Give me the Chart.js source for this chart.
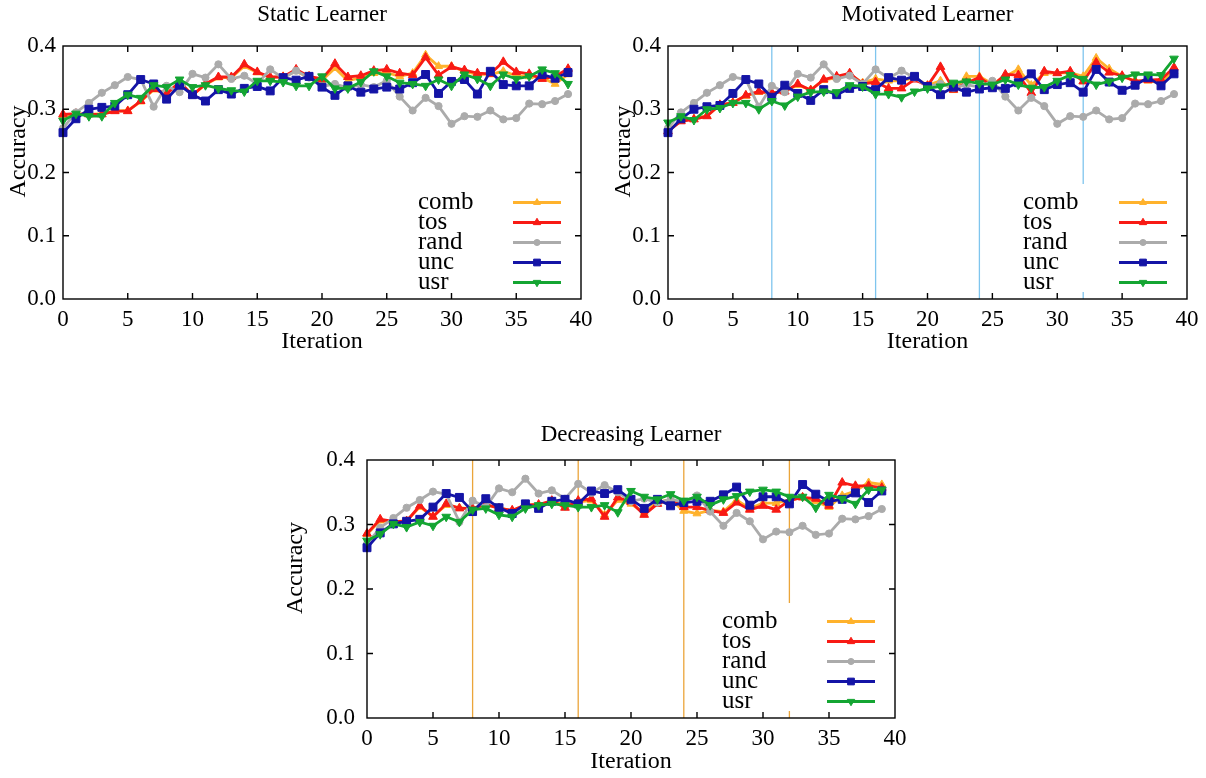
<!DOCTYPE html>
<html>
<head>
<meta charset="utf-8">
<script src="https://cdn.jsdelivr.net/npm/chart.js@4.4.1/dist/chart.umd.min.js"></script>
<style>
  body { margin: 0; background: #fff; width: 1206px; height: 778px; overflow: hidden; position: relative; }
  canvas { position: absolute; }
</style>
</head>
<body>
<canvas id="static" width="603" height="360" style="left:0;top:0"></canvas>
<canvas id="motivated" width="601" height="360" style="left:605px;top:0"></canvas>
<canvas id="decreasing" width="648" height="364" style="left:276px;top:414px"></canvas>
<script>
// x positions of the points
const iterations = [0, 1, 2, 3, 4, 5, 6, 7, 8, 9, 10, 11, 12, 13, 14, 15, 16, 17, 18, 19,
  20, 21, 22, 23, 24, 25, 26, 27, 28, 29, 30, 31, 32, 33, 34, 35, 36, 37, 38, 39];
const xTicks = [0, 5, 10, 15, 20, 25, 30, 35, 40];
const yTicks = [0.0, 0.1, 0.2, 0.3, 0.4];
const seriesNames = ['comb', 'tos', 'rand', 'unc', 'usr'];

// random sampling is the same in every panel
const randAcc = [0.270, 0.295, 0.310, 0.326, 0.338, 0.351, 0.347, 0.304, 0.337, 0.327,
  0.356, 0.350, 0.371, 0.348, 0.353, 0.340, 0.363, 0.349, 0.361, 0.350,
  0.336, 0.340, 0.334, 0.339, 0.335, 0.345, 0.320, 0.298, 0.318, 0.305,
  0.277, 0.289, 0.288, 0.298, 0.284, 0.286, 0.309, 0.308, 0.313, 0.324];

const staticComb = [0.290, 0.292, 0.292, 0.293, 0.297, 0.298, 0.312, 0.331, 0.325, 0.342,
  0.323, 0.339, 0.350, 0.350, 0.368, 0.358, 0.350, 0.352, 0.360, 0.350,
  0.346, 0.365, 0.345, 0.350, 0.357, 0.358, 0.352, 0.357, 0.386, 0.368,
  0.368, 0.360, 0.355, 0.355, 0.360, 0.353, 0.352, 0.350, 0.340, 0.355];
const staticTos = [0.292, 0.293, 0.292, 0.292, 0.297, 0.297, 0.313, 0.332, 0.324, 0.343,
  0.322, 0.340, 0.351, 0.351, 0.371, 0.359, 0.351, 0.351, 0.363, 0.352,
  0.348, 0.372, 0.351, 0.353, 0.361, 0.363, 0.357, 0.354, 0.382, 0.354,
  0.367, 0.362, 0.357, 0.356, 0.375, 0.359, 0.356, 0.348, 0.352, 0.364];
const staticUnc = [0.263, 0.285, 0.300, 0.303, 0.305, 0.323, 0.347, 0.340, 0.316, 0.338,
  0.323, 0.313, 0.331, 0.324, 0.333, 0.336, 0.329, 0.350, 0.346, 0.352,
  0.335, 0.322, 0.337, 0.327, 0.332, 0.335, 0.332, 0.342, 0.355, 0.325,
  0.344, 0.347, 0.324, 0.360, 0.339, 0.337, 0.337, 0.355, 0.349, 0.358];
const staticUsr = [0.282, 0.293, 0.289, 0.289, 0.310, 0.323, 0.318, 0.338, 0.335, 0.347,
  0.335, 0.338, 0.333, 0.330, 0.328, 0.345, 0.345, 0.343, 0.337, 0.337,
  0.352, 0.333, 0.333, 0.343, 0.360, 0.352, 0.342, 0.340, 0.337, 0.347,
  0.337, 0.355, 0.348, 0.337, 0.355, 0.348, 0.352, 0.363, 0.357, 0.340];

const motivatedComb = [0.266, 0.282, 0.285, 0.290, 0.306, 0.311, 0.321, 0.327, 0.325, 0.329,
  0.338, 0.331, 0.346, 0.350, 0.355, 0.342, 0.348, 0.345, 0.345, 0.350,
  0.338, 0.345, 0.330, 0.352, 0.352, 0.340, 0.352, 0.363, 0.338, 0.357,
  0.357, 0.358, 0.352, 0.381, 0.364, 0.352, 0.345, 0.345, 0.342, 0.360];
const motivatedTos = [0.265, 0.281, 0.284, 0.289, 0.307, 0.310, 0.322, 0.328, 0.326, 0.328,
  0.340, 0.330, 0.347, 0.352, 0.357, 0.340, 0.343, 0.333, 0.333, 0.347,
  0.337, 0.367, 0.331, 0.342, 0.350, 0.337, 0.355, 0.354, 0.326, 0.360,
  0.357, 0.360, 0.344, 0.374, 0.358, 0.353, 0.344, 0.346, 0.347, 0.366];
const motivatedUnc = [0.263, 0.285, 0.300, 0.304, 0.306, 0.325, 0.347, 0.340, 0.319, 0.338,
  0.325, 0.314, 0.331, 0.323, 0.333, 0.336, 0.331, 0.350, 0.346, 0.352,
  0.336, 0.323, 0.335, 0.327, 0.332, 0.334, 0.333, 0.342, 0.356, 0.331,
  0.339, 0.342, 0.327, 0.363, 0.343, 0.330, 0.338, 0.350, 0.337, 0.356];
const motivatedUsr = [0.279, 0.289, 0.283, 0.300, 0.302, 0.310, 0.310, 0.300, 0.313, 0.306,
  0.320, 0.327, 0.328, 0.327, 0.338, 0.336, 0.324, 0.324, 0.319, 0.328,
  0.333, 0.336, 0.342, 0.344, 0.341, 0.339, 0.347, 0.339, 0.334, 0.335,
  0.345, 0.354, 0.348, 0.339, 0.344, 0.350, 0.355, 0.355, 0.354, 0.380];

const decreasingComb = [0.285, 0.306, 0.304, 0.306, 0.327, 0.313, 0.330, 0.326, 0.324, 0.330,
  0.326, 0.321, 0.331, 0.330, 0.336, 0.330, 0.335, 0.337, 0.315, 0.338,
  0.332, 0.318, 0.335, 0.338, 0.321, 0.317, 0.322, 0.320, 0.338, 0.325,
  0.333, 0.333, 0.338, 0.342, 0.336, 0.327, 0.345, 0.352, 0.365, 0.362];
const decreasingTos = [0.286, 0.308, 0.305, 0.305, 0.329, 0.312, 0.332, 0.325, 0.325, 0.331,
  0.325, 0.322, 0.330, 0.331, 0.337, 0.326, 0.337, 0.340, 0.312, 0.342,
  0.335, 0.315, 0.332, 0.339, 0.327, 0.327, 0.322, 0.318, 0.334, 0.323,
  0.329, 0.323, 0.337, 0.342, 0.340, 0.329, 0.365, 0.360, 0.360, 0.357];
const decreasingUnc = [0.264, 0.287, 0.301, 0.305, 0.308, 0.327, 0.348, 0.342, 0.320, 0.340,
  0.326, 0.317, 0.332, 0.325, 0.336, 0.339, 0.332, 0.352, 0.348, 0.354,
  0.339, 0.325, 0.339, 0.329, 0.334, 0.336, 0.336, 0.346, 0.358, 0.330,
  0.343, 0.343, 0.332, 0.362, 0.347, 0.336, 0.339, 0.349, 0.334, 0.352];
const decreasingUsr = [0.275, 0.285, 0.301, 0.296, 0.304, 0.298, 0.312, 0.304, 0.323, 0.325,
  0.315, 0.312, 0.325, 0.330, 0.332, 0.330, 0.327, 0.327, 0.330, 0.319,
  0.352, 0.343, 0.339, 0.347, 0.337, 0.343, 0.330, 0.339, 0.344, 0.351,
  0.354, 0.351, 0.343, 0.343, 0.326, 0.346, 0.340, 0.332, 0.354, 0.354];

// iterations where the learner changes
const motivatedMarks = [8, 16, 24, 32];
const decreasingMarks = [8, 16, 24, 32];

const FONT = "'Liberation Serif', 'Times New Roman', serif";
Chart.defaults.font.family = FONT;
Chart.defaults.color = '#000';

// gnuplot-like look: colour, point type, draw order (usr on top)
const seriesStyle = {
  comb: { color: '#ffb22c', point: 'triangle', radius: 4.6, rotation: 0, order: 5 },
  tos: { color: '#f81a14', point: 'triangle', radius: 5, rotation: 0, order: 4 },
  rand: { color: '#ababab', point: 'circle', radius: 3.6, rotation: 0, order: 3 },
  unc: { color: '#1414a6', point: 'rect', radius: 5.6, rotation: 0, order: 2 },
  usr: { color: '#14a532', point: 'triangle', radius: 5, rotation: 180, order: 1 },
};

function seriesDataset(name, values) {
  const s = seriesStyle[name];
  return {
    label: name,
    data: values.map((v, i) => ({ x: iterations[i], y: v })),
    borderColor: s.color,
    backgroundColor: s.color,
    pointBackgroundColor: s.color,
    pointBorderColor: s.color,
    pointBorderWidth: 1,
    pointStyle: s.point,
    pointRotation: s.rotation,
    pointRadius: s.radius,
    borderWidth: 2.8,
    tension: 0,
    clip: false,
    order: s.order,
  };
}

function markDataset(at, color) {
  return {
    isMark: true,
    data: [{ x: at, y: yTicks[0] }, { x: at, y: yTicks[yTicks.length - 1] }],
    borderColor: color,
    borderWidth: 1.3,
    pointRadius: 0,
    order: 10,
  };
}

// key box, frame, inward ticks and the y label, drawn over the marks
const gnuFrame = {
  id: 'gnuFrame',
  afterDatasetsDraw(chart, args, opts) {
    const { ctx, chartArea: a, scales: { x, y } } = chart;
    ctx.save();
    // opaque key
    ctx.fillStyle = '#fff';
    ctx.fillRect(a.left + 345, a.bottom - 115, a.right - 12 - (a.left + 345), 108);
    const entries = chart.data.datasets.filter(d => !d.isMark);
    ctx.font = '25px ' + FONT;
    ctx.textBaseline = 'middle';
    ctx.textAlign = 'left';
    entries.forEach((d, i) => {
      const rowY = a.bottom - 96.5 + i * 20;
      ctx.fillStyle = '#000';
      ctx.fillText(d.label, a.left + 355, rowY);
      ctx.strokeStyle = d.borderColor;
      ctx.lineWidth = d.borderWidth;
      ctx.beginPath();
      ctx.moveTo(a.right - 68, rowY);
      ctx.lineTo(a.right - 20, rowY);
      ctx.stroke();
      ctx.fillStyle = d.pointBackgroundColor;
      ctx.lineWidth = 1;
      Chart.helpers.drawPoint(ctx, {
        pointStyle: d.pointStyle, rotation: d.pointRotation,
        radius: d.pointRadius * 0.85, borderWidth: 1,
      }, a.right - 44, rowY);
    });
    // border
    ctx.strokeStyle = '#000';
    ctx.lineWidth = 1.4;
    ctx.strokeRect(a.left, a.top, a.width, a.height);
    // inward ticks on all four sides
    ctx.beginPath();
    xTicks.slice(1, -1).forEach(v => {
      const px = x.getPixelForValue(v);
      ctx.moveTo(px, a.bottom); ctx.lineTo(px, a.bottom - 6);
      ctx.moveTo(px, a.top); ctx.lineTo(px, a.top + 6);
    });
    yTicks.slice(1, -1).forEach(v => {
      const py = y.getPixelForValue(v);
      ctx.moveTo(a.left, py); ctx.lineTo(a.left + 6, py);
      ctx.moveTo(a.right, py); ctx.lineTo(a.right - 6, py);
    });
    ctx.stroke();
    // y label, set a little above the middle as gnuplot does here
    ctx.fillStyle = '#000';
    ctx.font = '24px ' + FONT;
    ctx.textAlign = 'center';
    ctx.textBaseline = 'middle';
    ctx.translate(opts.labelX, (a.top + a.bottom) / 2 - 21);
    ctx.rotate(-Math.PI / 2);
    ctx.fillText(chart.options.scales.y.title.text, 0, 0);
    ctx.restore();
  },
};

function buildChart(id, title, values, marks, markColor, f) {
  const datasets = seriesNames.map((n, i) => seriesDataset(n, values[i]));
  marks.forEach(m => datasets.push(markDataset(m, markColor)));
  const tickFont = { family: FONT, size: 23 };
  return new Chart(document.getElementById(id), {
    type: 'line',
    data: { datasets },
    plugins: [gnuFrame],
    options: {
      responsive: false,
      animation: false,
      events: [],
      layout: { padding: { left: 0, top: 0, bottom: 0, right: f.padRight } },
      plugins: {
        legend: { display: false },
        tooltip: { enabled: false },
        gnuFrame: { labelX: f.yLabelX },
        title: {
          display: true,
          text: title,
          fullSize: false,
          color: '#000',
          font: { family: FONT, size: 23, weight: 'normal' },
          padding: { top: f.titleTop, bottom: f.titleBottom },
        },
      },
      scales: {
        x: {
          type: 'linear',
          min: xTicks[0],
          max: xTicks[xTicks.length - 1],
          afterBuildTicks: s => { s.ticks = xTicks.map(v => ({ value: v })); },
          ticks: { padding: 7, maxRotation: 0, autoSkip: false, font: tickFont, color: '#000' },
          grid: { display: false, drawTicks: false },
          border: { display: false },
          title: { display: true, text: 'Iteration', color: '#000', font: { family: FONT, size: 24 }, padding: { top: 0, bottom: f.xTitlePad } },
          afterFit: s => { s.height = f.xHeight; },
        },
        y: {
          min: yTicks[0],
          max: yTicks[yTicks.length - 1],
          afterBuildTicks: s => { s.ticks = yTicks.map(v => ({ value: v })); },
          ticks: { padding: f.yTickPad, font: tickFont, color: '#000', callback: v => v.toFixed(1) },
          grid: { display: false, drawTicks: false },
          border: { display: false },
          title: { display: false, text: 'Accuracy' },
          afterFit: s => { s.width = f.yWidth; },
        },
      },
    },
  });
}

buildChart('static', 'Static Learner',
  [staticComb, staticTos, randAcc, staticUnc, staticUsr], [], null,
  { yWidth: 63, xHeight: 61, padRight: 22, titleTop: 1.2, titleBottom: 17.2, yTickPad: 7, yLabelX: 19, xTitlePad: 4 });
buildChart('motivated', 'Motivated Learner',
  [motivatedComb, motivatedTos, randAcc, motivatedUnc, motivatedUsr], motivatedMarks, '#7fc5ee',
  { yWidth: 63, xHeight: 61, padRight: 19, titleTop: 1.2, titleBottom: 17.2, yTickPad: 7, yLabelX: 19, xTitlePad: 4 });
buildChart('decreasing', 'Decreasing Learner',
  [decreasingComb, decreasingTos, randAcc, decreasingUnc, decreasingUsr], decreasingMarks, '#eba53a',
  { yWidth: 91, xHeight: 60, padRight: 29, titleTop: 6.7, titleBottom: 11.7, yTickPad: 12, yLabelX: 20, xTitlePad: 2.3 });
</script>
</body>
</html>
